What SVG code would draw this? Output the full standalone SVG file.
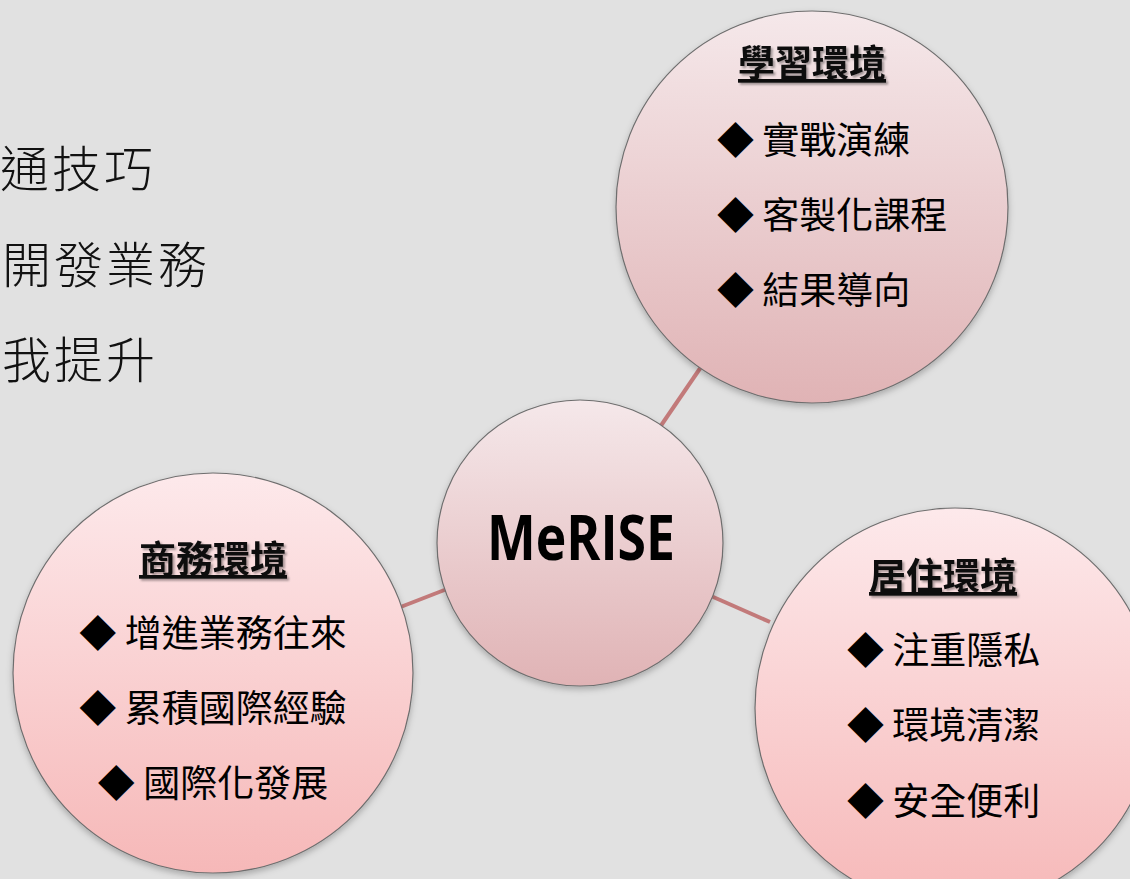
<svg xmlns="http://www.w3.org/2000/svg" width="1130" height="879" viewBox="0 0 1130 879">
<defs>
<linearGradient id="gA" x1="0" y1="0" x2="0" y2="1">
<stop offset="0" stop-color="#f5e8ea"/>
<stop offset="1" stop-color="#e0b3b5"/>
</linearGradient>
<linearGradient id="gB" x1="0" y1="0" x2="0" y2="1">
<stop offset="0" stop-color="#fde9eb"/>
<stop offset="1" stop-color="#f6b8b8"/>
</linearGradient>
<filter id="sh" x="-10%" y="-10%" width="120%" height="125%">
<feDropShadow dx="0" dy="3" stdDeviation="3" flood-color="#000" flood-opacity="0.25"/>
</filter>
<filter id="ts" x="-5%" y="-20%" width="115%" height="150%">
<feDropShadow dx="2" dy="2" stdDeviation="1.2" flood-color="#000" flood-opacity="0.35"/>
</filter>
</defs>
<style>
.bg{fill:#e1e1e1}
.node{stroke:#6e6e6e;stroke-width:1.2}
.conn{stroke:#c27a7a;stroke-width:4;stroke-linecap:butt}
.hd{font-family:"Noto Sans CJK TC","Noto Sans CJK SC",sans-serif;font-weight:700;font-size:37px;fill:#111;text-decoration:underline}
.it{font-family:"Noto Sans CJK TC","Noto Sans CJK SC",sans-serif;font-size:37px;fill:#000}
.side{font-family:"Noto Sans CJK TC","Noto Sans CJK SC",sans-serif;font-weight:300;font-size:49px;fill:#111;letter-spacing:3px}
.big{font-family:"Open Sans","Liberation Sans",sans-serif;font-weight:700;font-size:62px;fill:#000}
</style>
<rect class="bg" x="0" y="0" width="1130" height="879"/>
<g id="side-text">
<text class="side" x="0" y="187">通技巧</text>
<text class="side" x="2" y="283">開發業務</text>
<text class="side" x="2" y="378">我提升</text>
</g>
<g id="connectors">
<line class="conn" x1="701" y1="367" x2="660" y2="427"/>
<line class="conn" x1="398" y1="608" x2="447" y2="589"/>
<line class="conn" x1="711" y1="596" x2="770" y2="622"/>
</g>
<g id="node-learning">
<circle class="node" cx="812" cy="207" r="196" fill="url(#gA)" filter="url(#sh)"/>
<text class="hd" x="812" y="77" text-anchor="middle" filter="url(#ts)">學習環境</text>
<text class="it" x="717" y="154">◆ 實戰演練</text>
<text class="it" x="717" y="229">◆ 客製化課程</text>
<text class="it" x="717" y="304">◆ 結果導向</text>
</g>
<g id="node-center">
<circle class="node" cx="580" cy="543" r="143" fill="url(#gA)" filter="url(#sh)"/>
<text class="big" x="581" y="560" text-anchor="middle" textLength="188" lengthAdjust="spacingAndGlyphs">MeRISE</text>
</g>
<g id="node-business">
<circle class="node" cx="213" cy="673" r="200" fill="url(#gB)" filter="url(#sh)"/>
<text class="hd" x="213" y="573" text-anchor="middle" filter="url(#ts)">商務環境</text>
<text class="it" x="213" y="647" text-anchor="middle">◆ 增進業務往來</text>
<text class="it" x="213" y="722" text-anchor="middle">◆ 累積國際經驗</text>
<text class="it" x="213" y="797" text-anchor="middle">◆ 國際化發展</text>
</g>
<g id="node-living">
<circle class="node" cx="955" cy="708" r="200" fill="url(#gB)" filter="url(#sh)"/>
<text class="hd" x="943" y="590" text-anchor="middle" filter="url(#ts)">居住環境</text>
<text class="it" x="847" y="664">◆ 注重隱私</text>
<text class="it" x="847" y="739">◆ 環境清潔</text>
<text class="it" x="847" y="815">◆ 安全便利</text>
</g>
</svg>
